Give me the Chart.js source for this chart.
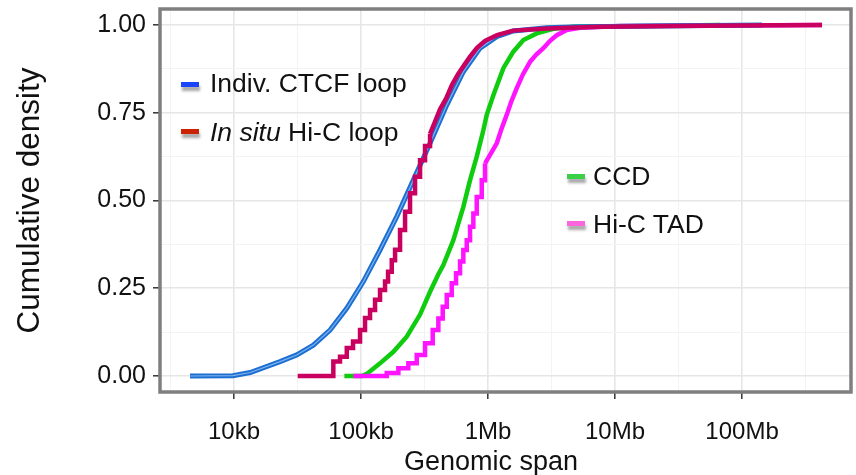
<!DOCTYPE html>
<html>
<head>
<meta charset="utf-8">
<script src="https://cdn.jsdelivr.net/npm/chart.js@4.4.1/dist/chart.umd.min.js"></script>
<style>
    html, body { margin: 0; padding: 0; background: #fff; }
    #wrap { position: relative; width: 856px; height: 475px; font-family: "Liberation Sans", Arial, sans-serif; }
    #chart { position: absolute; left: 0; top: 0; }
    .legend-text { position: absolute; height: 30px; line-height: 30px; font-size: 26.5px; color: #111; white-space: nowrap; }
    .legend-key { position: absolute; width: 18px; height: 5px; box-shadow: 1px 4px 3px rgba(0, 0, 0, 0.35); }
    #x-title { position: absolute; left: 391px; width: 200px; top: 446px; text-align: center; font-size: 27px; line-height: 30px; color: #111; }
</style>
</head>
<body>
<div id="wrap">
    <canvas id="chart" width="856" height="475"></canvas>

    <span class="legend-key" style="left:181px; top:82px; background:#1a45ff;"></span>
    <div class="legend-text" style="left:210px; top:68px;">Indiv. CTCF loop</div>
    <span class="legend-key" style="left:181px; top:129px; background:#cc2200;"></span>
    <div class="legend-text" style="left:210px; top:117px;"><i>In situ</i> Hi-C loop</div>

    <span class="legend-key" style="left:567px; top:174px; background:#3ccf48;"></span>
    <div class="legend-text" style="left:593px; top:161px;">CCD</div>
    <span class="legend-key" style="left:567px; top:221px; background:#ff66dd;"></span>
    <div class="legend-text" style="left:593px; top:209px;">Hi-C TAD</div>

    <div id="x-title">Genomic span</div>
</div>

<script>
// 軸の目盛り
const spanTicks = [1e4, 1e5, 1e6, 1e7, 1e8];
const spanTickLabels = ['10kb', '100kb', '1Mb', '10Mb', '100Mb'];
const spanMinorTicks = [3162, 31623, 316228, 3162278, 31622777, 316227766];
const densityTicks = [0, 0.25, 0.5, 0.75, 1];
const densityMinorTicks = [0.125, 0.375, 0.625, 0.875];

// Indiv. CTCF loop
const ctcfSpan = [4500, 9800, 13400, 23030, 31170, 42110, 57000, 77180, 104300, 141100,
    191100, 258100, 349400, 473000, 639000, 865000, 1171000, 1582000, 2899000, 5300000, 143700000];
const ctcfCum = [0, 0.001, 0.01, 0.041, 0.06, 0.088, 0.131, 0.193, 0.269, 0.359,
    0.454, 0.558, 0.663, 0.772, 0.867, 0.934, 0.967, 0.983, 0.992, 0.995, 1];

// In situ Hi-C loop: 下側は階段状、上側はなめらか
const hicLoopStepSpan = [31700, 60500, 68300, 77200, 86500, 98200, 107500, 117700, 128900, 141100,
    154500, 163200, 174500, 185300, 202900, 222100, 243100, 266200, 291500, 319100, 349400];
const hicLoopStepCum = [0, 0.041, 0.055, 0.08, 0.098, 0.131, 0.165, 0.188, 0.217, 0.245,
    0.269, 0.297, 0.33, 0.36, 0.416, 0.468, 0.521, 0.568, 0.615, 0.655, 0.69];
const hicLoopTopSpan = [349400, 382500, 418800, 467000, 520600, 580500, 647100, 721600, 819300, 947100,
    1177000, 1573000, 2915000, 7617000, 46710000, 426500000];
const hicLoopTopCum = [0.69, 0.725, 0.76, 0.79, 0.83, 0.86, 0.885, 0.91, 0.935, 0.955,
    0.971, 0.984, 0.99, 0.995, 0.998, 1];

// CCD
const ccdSpan = [73900, 101800, 110900, 141100, 179700, 228900, 291500, 349400, 406200, 444600,
    533100, 639000, 721600, 814700, 918400, 976800, 1101000, 1320000, 1582000, 1897000,
    2418000, 3268000, 4671000, 67110000];
const ccdCum = [0, 0, 0.006, 0.036, 0.069, 0.112, 0.175, 0.24, 0.29, 0.316,
    0.387, 0.482, 0.558, 0.625, 0.70, 0.744, 0.80, 0.877, 0.924, 0.957,
    0.976, 0.989, 0.995, 1];

// Hi-C TAD: 下側は階段状、上側はなめらか
const tadStepSpan = [87000, 159400, 196700, 235700, 274600, 319100, 366900, 406200, 439800, 473000,
    517800, 559800, 601900, 639000, 679600, 721600, 766100, 814700, 892000, 947100];
const tadStepCum = [0, 0.0085, 0.022, 0.036, 0.06, 0.093, 0.131, 0.164, 0.197, 0.231,
    0.264, 0.293, 0.326, 0.359, 0.387, 0.425, 0.463, 0.51, 0.558, 0.606];
const tadTopSpan = [947100, 1037000, 1171000, 1266000, 1403000, 1517000, 1683000, 1886000, 2141000, 2388000,
    2725000, 3078000, 3475000, 4166000, 5300000, 10950000, 426500000];
const tadTopCum = [0.606, 0.63, 0.663, 0.70, 0.744, 0.78, 0.82, 0.86, 0.895, 0.915,
    0.934, 0.955, 0.971, 0.986, 0.992, 0.997, 1];

const FONT = '"Liberation Sans", Arial, sans-serif';
const toPoints = (xs, ys) => xs.map((x, i) => ({ x: x, y: ys[i] }));

// パネルの枠線
const panelBorder = {
    id: 'panelBorder',
    afterDraw(chart) {
        const { ctx, chartArea: a } = chart;
        ctx.save();
        ctx.strokeStyle = '#7f7f7f';
        ctx.lineWidth = 3.5;
        ctx.strokeRect(a.left, a.top, a.right - a.left, a.bottom - a.top);
        ctx.restore();
    }
};

const lineStyle = (color, width, stepped) => ({
    borderColor: color,
    backgroundColor: color,
    borderWidth: width,
    pointRadius: 0,
    tension: 0,
    stepped: stepped,
    fill: false,
    borderJoinStyle: 'miter',
    borderCapStyle: 'butt'
});

const isSpanMajor = (v) => spanTicks.includes(v);
const isDensityMajor = (v) => densityTicks.includes(v);

new Chart(document.getElementById('chart').getContext('2d'), {
    type: 'line',
    data: {
        datasets: [
            Object.assign({ label: 'In situ Hi-C loop', data: toPoints(hicLoopStepSpan, hicLoopStepCum) }, lineStyle('#c9005f', 4.5, true)),
            Object.assign({ label: 'In situ Hi-C loop (top)', data: toPoints(hicLoopTopSpan, hicLoopTopCum) }, lineStyle('#c9005f', 4.5, false)),
            Object.assign({ label: 'Indiv. CTCF loop (core)', data: toPoints(ctcfSpan, ctcfCum) }, lineStyle('rgba(140,185,238,0.9)', 1.2, false)),
            Object.assign({ label: 'Indiv. CTCF loop', data: toPoints(ctcfSpan, ctcfCum) }, lineStyle('#1b6fd2', 5, false)),
            Object.assign({ label: 'Hi-C TAD', data: toPoints(tadStepSpan, tadStepCum) }, lineStyle('#ff14ff', 4.5, true)),
            Object.assign({ label: 'Hi-C TAD (top)', data: toPoints(tadTopSpan, tadTopCum) }, lineStyle('#ff14ff', 4.5, false)),
            Object.assign({ label: 'CCD', data: toPoints(ccdSpan, ccdCum) }, lineStyle('#0fcc0f', 4.5, false))
        ]
    },
    options: {
        responsive: false,
        animation: false,
        events: [],
        layout: { padding: { left: 0, right: 5, top: 9, bottom: 0 } },
        plugins: {
            legend: { display: false },
            tooltip: { enabled: false }
        },
        scales: {
            x: {
                type: 'logarithmic',
                min: 2612,
                max: 721000000,
                afterBuildTicks: (axis) => {
                    axis.ticks = spanTicks.concat(spanMinorTicks).sort((a, b) => a - b).map(v => ({ value: v }));
                },
                afterFit: (axis) => {
                    axis.height = 83;
                    axis.paddingLeft = 0;
                    axis.paddingRight = 0;
                },
                ticks: {
                    autoSkip: false,
                    maxRotation: 0,
                    minRotation: 0,
                    padding: 19,
                    color: '#111',
                    font: { family: FONT, size: 24 },
                    callback: (value) => {
                        const i = spanTicks.indexOf(value);
                        return i >= 0 ? spanTickLabels[i] : '';
                    }
                },
                grid: {
                    color: (c) => isSpanMajor(c.tick.value) ? '#e6e6e6' : '#f3f3f3',
                    lineWidth: (c) => isSpanMajor(c.tick.value) ? 1.6 : 1,
                    tickLength: 7,
                    tickWidth: 1.5,
                    tickColor: (c) => isSpanMajor(c.tick.value) ? '#333' : 'rgba(0,0,0,0)'
                },
                border: { display: false },
                title: { display: false }
            },
            y: {
                type: 'linear',
                min: -0.0456,
                max: 1.0456,
                afterBuildTicks: (axis) => {
                    axis.ticks = densityTicks.concat(densityMinorTicks).sort((a, b) => a - b).map(v => ({ value: v }));
                },
                afterFit: (axis) => {
                    axis.width = 160;
                    axis.paddingTop = 0;
                    axis.paddingBottom = 0;
                },
                ticks: {
                    padding: 7,
                    color: '#111',
                    font: { family: FONT, size: 25 },
                    callback: (value) => isDensityMajor(value) ? value.toFixed(2) : ''
                },
                grid: {
                    color: (c) => isDensityMajor(c.tick.value) ? '#e6e6e6' : '#f3f3f3',
                    lineWidth: (c) => isDensityMajor(c.tick.value) ? 1.6 : 1,
                    tickLength: 7,
                    tickWidth: 1.5,
                    tickColor: (c) => isDensityMajor(c.tick.value) ? '#333' : 'rgba(0,0,0,0)'
                },
                border: { display: false },
                title: {
                    display: true,
                    text: 'Cumulative density',
                    color: '#111',
                    font: { family: FONT, size: 31.5, lineHeight: 1 },
                    padding: { top: 15, bottom: 0 }
                }
            }
        }
    },
    plugins: [panelBorder]
});
</script>
</body>
</html>
